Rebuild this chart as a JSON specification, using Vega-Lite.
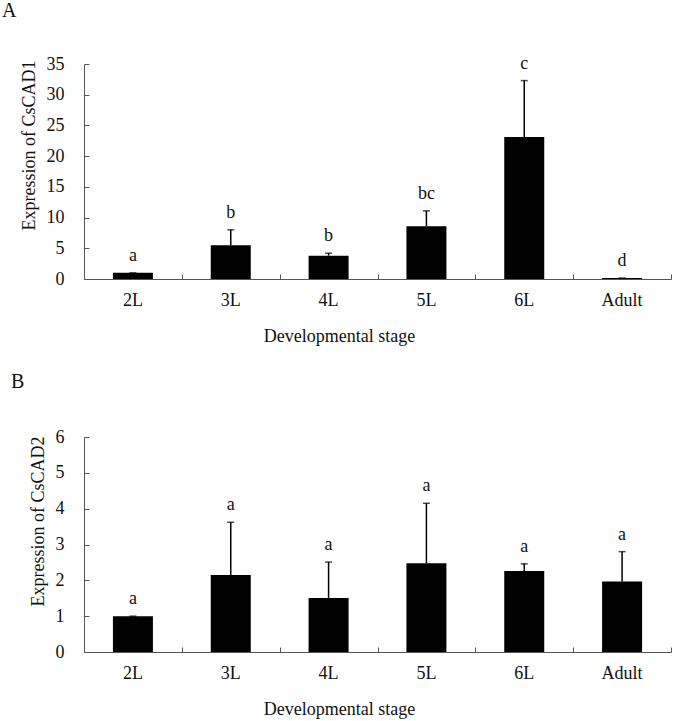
{
  "$schema": "https://vega.github.io/schema/vega-lite/v6.json",
  "background": "white",
  "padding": {"left": 2, "top": 0, "right": 3, "bottom": 3},
  "spacing": 27,
  "config": {
    "font": "Liberation Serif",
    "view": {"stroke": null},
    "axis": {"grid": false, "domainColor": "#555", "tickColor": "#555", "labelColor": "#111", "titleColor": "#111", "labelFont": "Liberation Serif", "titleFont": "Liberation Serif", "labelFontSize": 18, "titleFontSize": 18, "titleFontWeight": "normal", "labelOverlap": false},
    "title": {"font": "Liberation Serif", "fontSize": 20, "fontWeight": "normal", "color": "#111"}
  },
  "datasets": {
    "a": [
      {"stage": "2L", "value": 1.0, "err": 1.0, "sig": "a"},
      {"stage": "3L", "value": 5.5, "err": 8.0, "sig": "b"},
      {"stage": "4L", "value": 3.8, "err": 4.2, "sig": "b"},
      {"stage": "5L", "value": 8.6, "err": 11.1, "sig": "bc"},
      {"stage": "6L", "value": 23.1, "err": 32.3, "sig": "c"},
      {"stage": "Adult", "value": 0.15, "err": 0.15, "sig": "d"}
    ],
    "b": [
      {"stage": "2L", "value": 1.0, "err": 1.0, "sig": "a"},
      {"stage": "3L", "value": 2.15, "err": 3.62, "sig": "a"},
      {"stage": "4L", "value": 1.51, "err": 2.51, "sig": "a"},
      {"stage": "5L", "value": 2.48, "err": 4.15, "sig": "a"},
      {"stage": "6L", "value": 2.26, "err": 2.46, "sig": "a"},
      {"stage": "Adult", "value": 1.97, "err": 2.8, "sig": "a"}
    ]
  },
  "vconcat": [
    {
      "width": 587,
      "height": 215,
      "title": {"text": "A", "anchor": "start", "frame": "bounds", "offset": 34, "dx": -18},
      "data": {"name": "a"},
      "resolve": {"axis": {"x": "independent", "y": "independent"}},
      "layer": [
        {"mark": {"type": "bar", "color": "black", "size": 40},
         "encoding": {
           "x": {"field": "stage", "type": "nominal", "sort": null, "scale": {"paddingInner": 0, "paddingOuter": 0},
             "axis": {"title": "Developmental stage", "orient": "bottom", "labelAngle": 0, "ticks": false, "labelPadding": 12, "titlePadding": 18, "titleX": 255}},
           "y": {"field": "value", "type": "quantitative", "scale": {"domain": [0, 35]},
             "axis": {"title": "Expression of CsCAD1", "orient": "left", "values": [0,5,10,15,20,25,30,35], "ticks": false, "labelPadding": 20, "titlePadding": 8, "titleY": 81}}}},
        {"mark": {"type": "rule", "color": "black", "strokeWidth": 1.5},
         "encoding": {
           "x": {"field": "stage", "type": "nominal", "sort": null,
             "axis": {"title": null, "orient": "bottom", "offset": -5, "domain": false, "labels": false, "tickBand": "extent", "tickSize": 5}},
           "y": {"field": "value", "type": "quantitative",
             "axis": {"title": null, "orient": "left", "offset": -5, "domain": false, "labels": false, "values": [0,5,10,15,20,25,30,35], "tickSize": 5}},
           "y2": {"field": "err"}}},
        {"mark": {"type": "tick", "color": "black", "thickness": 1.5, "size": 7},
         "encoding": {"x": {"field": "stage", "type": "nominal", "sort": null, "axis": null},
           "y": {"field": "err", "type": "quantitative", "axis": null}}},
        {"mark": {"type": "text", "fontSize": 18, "dy": -12, "baseline": "alphabetic", "color": "#111"},
         "encoding": {"x": {"field": "stage", "type": "nominal", "sort": null, "axis": null},
           "y": {"field": "err", "type": "quantitative", "axis": null}, "text": {"field": "sig"}}}
      ]
    },
    {
      "width": 587,
      "height": 215,
      "title": {"text": "B", "anchor": "start", "frame": "bounds", "offset": 36, "dx": -18},
      "data": {"name": "b"},
      "resolve": {"axis": {"x": "independent", "y": "independent"}},
      "layer": [
        {"mark": {"type": "bar", "color": "black", "size": 40},
         "encoding": {
           "x": {"field": "stage", "type": "nominal", "sort": null, "scale": {"paddingInner": 0, "paddingOuter": 0},
             "axis": {"title": "Developmental stage", "orient": "bottom", "labelAngle": 0, "ticks": false, "labelPadding": 12, "titlePadding": 18, "titleX": 255}},
           "y": {"field": "value", "type": "quantitative", "scale": {"domain": [0, 6]},
             "axis": {"title": "Expression of CsCAD2", "orient": "left", "values": [0,1,2,3,4,5,6], "ticks": false, "labelPadding": 20, "titlePadding": 8, "titleY": 84}}}},
        {"mark": {"type": "rule", "color": "black", "strokeWidth": 1.5},
         "encoding": {
           "x": {"field": "stage", "type": "nominal", "sort": null,
             "axis": {"title": null, "orient": "bottom", "offset": -5, "domain": false, "labels": false, "tickBand": "extent", "tickSize": 5}},
           "y": {"field": "value", "type": "quantitative",
             "axis": {"title": null, "orient": "left", "offset": -5, "domain": false, "labels": false, "values": [0,1,2,3,4,5,6], "tickSize": 5}},
           "y2": {"field": "err"}}},
        {"mark": {"type": "tick", "color": "black", "thickness": 1.5, "size": 7},
         "encoding": {"x": {"field": "stage", "type": "nominal", "sort": null, "axis": null},
           "y": {"field": "err", "type": "quantitative", "axis": null}}},
        {"mark": {"type": "text", "fontSize": 18, "dy": -12, "baseline": "alphabetic", "color": "#111"},
         "encoding": {"x": {"field": "stage", "type": "nominal", "sort": null, "axis": null},
           "y": {"field": "err", "type": "quantitative", "axis": null}, "text": {"field": "sig"}}}
      ]
    }
  ]
}
